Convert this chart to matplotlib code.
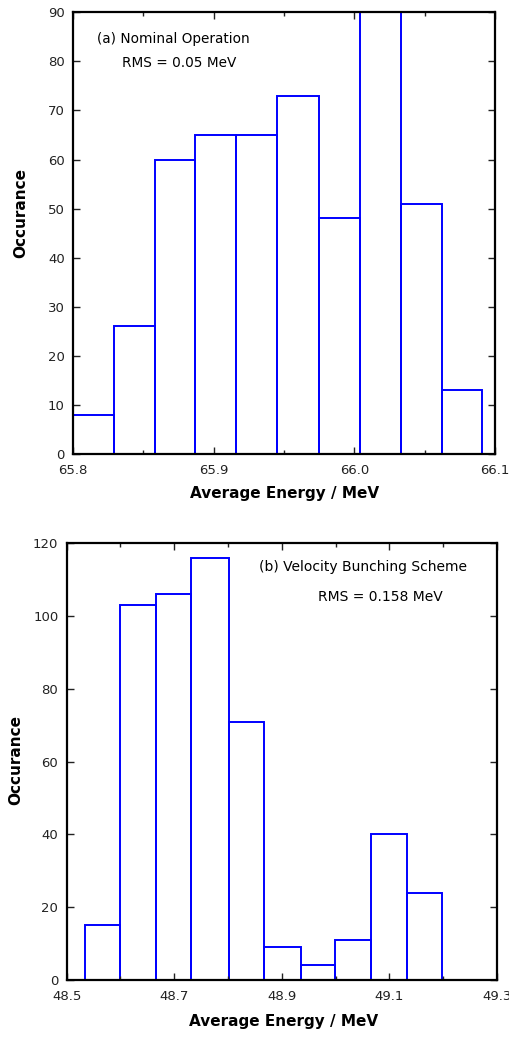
import matplotlib
matplotlib.use("Agg")
import matplotlib.pyplot as plt
import numpy as np
from matplotlib.ticker import MultipleLocator

# (a) Nominal operation
edges_a = [65.800, 65.829, 65.858, 65.887, 65.916, 65.945, 65.975, 66.004, 66.033, 66.062, 66.091]
counts_a = [8, 26, 60, 65, 65, 73, 48, 90, 51, 13]
xticks_a = [65.8, 65.9, 66.0, 66.1]

# (b) Velocity bunching scheme
edges_b = [48.534, 48.599, 48.666, 48.732, 48.801, 48.867, 48.935, 48.999, 49.066, 49.133, 49.198]
counts_b = [15, 103, 106, 116, 71, 9, 4, 11, 40, 24]
xticks_b = [48.5, 48.7, 48.9, 49.1, 49.3]

plt.rcParams['font.family'] = ['DejaVu Sans']

fig = plt.figure(figsize=(5.09, 10.5), dpi=100)
ax1 = fig.add_axes([0.1434, 0.5676, 0.8291, 0.4207])
ax2 = fig.add_axes([0.1310, 0.0667, 0.8454, 0.4159])


def draw_hist(ax, edges, counts, xlim, ylim, xticks, xminor, yticks):
    edges = np.array(edges)
    ax.bar(edges[:-1], counts, width=np.diff(edges), align='edge',
           fill=False, edgecolor='#0000ff', linewidth=1.4)
    ax.set_xlim(*xlim)
    ax.set_ylim(*ylim)
    ax.set_xticks(xticks)
    ax.xaxis.set_minor_locator(MultipleLocator(xminor))
    ax.set_yticks(yticks)
    ax.tick_params(which='both', direction='in', top=True, right=True,
                   labelsize=9.5, colors='#222222')
    ax.tick_params(axis='x', which='major', pad=7)
    ax.tick_params(axis='y', which='major', pad=6)
    ax.tick_params(which='major', length=5, width=1)
    ax.tick_params(which='minor', length=3, width=1)
    for s in ax.spines.values():
        s.set_linewidth(1.6)
    ax.set_xlabel('Average Energy / MeV', fontsize=11, fontweight='bold')
    ax.set_ylabel('Occurance', fontsize=11, fontweight='bold')


draw_hist(ax1, edges_a, counts_a, (65.8, 66.1), (0, 90), xticks_a, 0.05,
          np.arange(0, 91, 10))
ax1.set_xticklabels(['65.8', '65.9', '66.0', '66.1'])
ax1.xaxis.set_label_coords(0.502, -0.072)
ax1.yaxis.set_label_coords(-0.107, 0.546)
ax1.text(0.058, 0.94, '(a) Nominal Operation', transform=ax1.transAxes,
         fontsize=9.8, va='center')
ax1.text(0.117, 0.885, 'RMS = 0.05 MeV', transform=ax1.transAxes,
         fontsize=9.8, va='center')

draw_hist(ax2, edges_b, counts_b, (48.5, 49.3), (0, 120), xticks_b, 0.1,
          np.arange(0, 121, 20))
ax2.set_xticklabels(['48.5', '48.7', '48.9', '49.1', '49.3'])
ax2.xaxis.set_label_coords(0.503, -0.078)
ax2.yaxis.set_label_coords(-0.100, 0.504)
ax2.text(0.93, 0.945, '(b) Velocity Bunching Scheme', transform=ax2.transAxes,
         fontsize=10, va='center', ha='right')
ax2.text(0.875, 0.878, 'RMS = 0.158 MeV', transform=ax2.transAxes,
         fontsize=10, va='center', ha='right')

fig.savefig('out.png', dpi=100)
